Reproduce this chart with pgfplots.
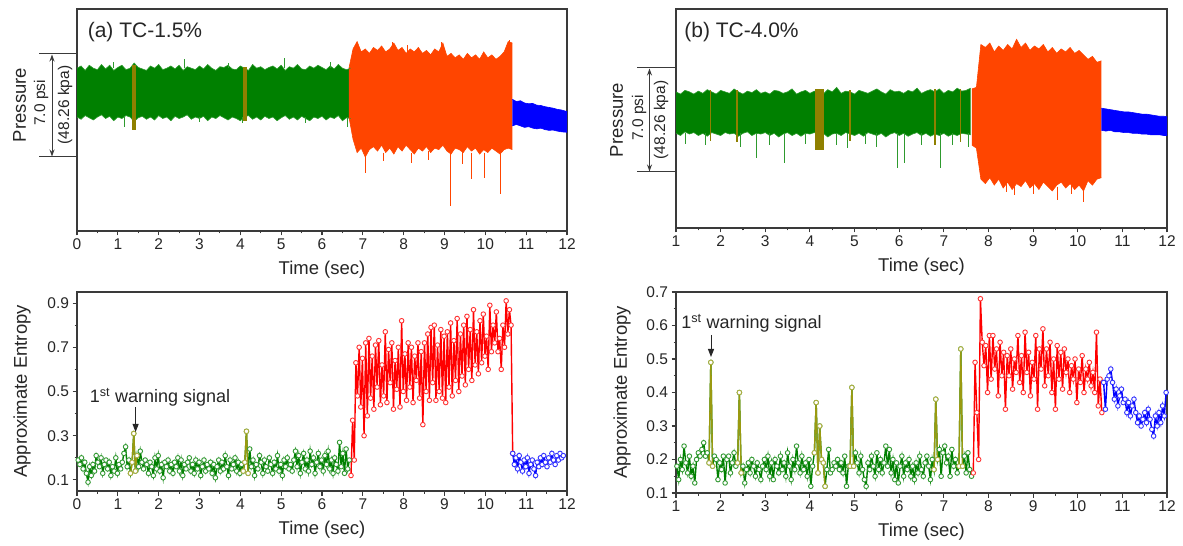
\documentclass[border=0pt]{standalone}
\usepackage{fontspec}
\setmainfont{Liberation Sans}
\usepackage{pgfplots}
\pgfplotsset{compat=1.18}
\usepgfplotslibrary{fillbetween}
\usetikzlibrary{arrows.meta}
\definecolor{gr}{HTML}{008000}
\definecolor{grl}{HTML}{2E9A2E}
\definecolor{brn}{HTML}{8F8000}
\definecolor{olv}{HTML}{9A9A10}
\definecolor{orr}{HTML}{FF4500}
\definecolor{blu}{HTML}{0000FF}
\definecolor{rd}{HTML}{FF0000}
\definecolor{axg}{HTML}{3A3A3A}
\definecolor{ink}{HTML}{262626}
\newcommand\fs[1]{\fontsize{#1bp}{#1bp}\selectfont}
\pgfplotsset{
  panel/.style={scale only axis, anchor=south west,
    axis line style={axg, line width=1.2bp},
    tick style={axg, line width=1.1bp},
    major tick length=4.5bp, minor tick length=2.5bp,
    tick align=outside, xtick pos=bottom, ytick pos=left,
    xtick distance=1, minor x tick num=1,
    tick label style={font=\fs{15.5}, text=ink},
    label style={font=\fs{18.5}, text=ink},
    /pgf/number format/assume math mode=true,
    xlabel={Time (sec)},
    xlabel style={at={(axis description cs:0.5,0)}, anchor=center, yshift=-39bp},
  },
  press/.style={panel, ytick=\empty, ymin=0},
  ent/.style={panel, ylabel={Approximate Entropy},
    yticklabel style={/pgf/number format/fixed, /pgf/number format/precision=1},
    minor y tick num=1},
  sig/.style={color=#1, line width=1.4bp, mark=*, mark size=2.3bp,
    mark options={draw=#1!80!white, fill=white, line width=0.9bp}},
}
\begin{document}
\begin{tikzpicture}
\path (0,0) rectangle (1183bp,546bp);

% ---------- (a) pressure ----------
\begin{axis}[press, at={(77bp,315bp)}, width=490bp, height=222bp, xmin=0, xmax=12, ymax=15]
  \addplot[name path=gau, grl, line width=0.6bp] table[row sep=\\, y index=0, x expr=0.1*\coordindex] {
11.0\\11.15\\10.85\\11.2\\11.0\\10.9\\11.25\\10.95\\11.2\\10.85\\
11.05\\11.2\\10.9\\11.0\\11.35\\11.05\\10.95\\10.85\\11.15\\11.0\\
11.25\\10.9\\11.0\\11.15\\10.95\\11.2\\10.85\\11.1\\11.0\\10.9\\
11.15\\10.95\\11.25\\11.0\\10.85\\11.1\\11.05\\11.2\\10.95\\10.9\\
11.15\\11.0\\10.85\\11.25\\11.0\\11.1\\10.9\\11.05\\11.15\\10.95\\
11.2\\10.85\\11.1\\11.0\\11.25\\10.95\\10.9\\11.15\\11.0\\11.2\\
11.05\\10.9\\11.15\\10.95\\11.25\\11.0\\10.9\\11.0\\};
  \addplot[name path=gal, grl, line width=0.6bp] table[row sep=\\, y index=0, x expr=0.1*\coordindex] {
7.7\\7.55\\7.8\\7.65\\7.5\\7.7\\7.85\\7.6\\7.75\\7.45\\
7.7\\7.6\\7.8\\7.7\\7.4\\7.65\\7.75\\7.55\\7.7\\7.5\\
7.8\\7.6\\7.7\\7.45\\7.75\\7.6\\7.7\\7.85\\7.55\\7.7\\
7.6\\7.75\\7.45\\7.7\\7.6\\7.8\\7.65\\7.5\\7.7\\7.6\\
7.45\\7.7\\7.8\\7.55\\7.7\\7.5\\7.75\\7.6\\7.7\\7.45\\
7.65\\7.8\\7.55\\7.7\\7.5\\7.75\\7.6\\7.45\\7.7\\7.6\\
7.75\\7.5\\7.7\\7.6\\7.8\\7.45\\7.65\\7.6\\};
  \addplot[gr] fill between[of=gau and gal];
  \addplot[grl, line width=0.8bp, unbounded coords=jump] coordinates {
    (1.15,7.7) (1.15,7.0) (1.15,nan) (2.64,11.0) (2.64,11.6) (2.64,nan)
    (5.08,11.0) (5.08,11.7) (5.08,nan) (4.05,7.7) (4.05,7.3) (4.05,nan)
    (6.63,7.7) (6.63,7.0) (6.63,nan) (3.0,7.7) (3.0,7.35) (3.0,nan)
    (5.6,7.7) (5.6,7.3) (5.6,nan) (0.9,11) (0.9,11.4) (0.9,nan)
    (3.7,11) (3.7,11.35) (3.7,nan) (6.2,11) (6.2,11.4)};
  \addplot[fill=brn, draw=none] coordinates {(1.34,6.8) (1.44,6.8) (1.44,11.2) (1.34,11.2)} -- cycle;
  \addplot[fill=brn, draw=none] coordinates {(4.06,7.4) (4.17,7.4) (4.17,11.1) (4.06,11.1)} -- cycle;
  \addplot[name path=rau, orr, line width=0.6bp] table[row sep=\\, y index=0, x expr=6.66+0.1*\coordindex] {
11.0\\12.3\\12.8\\12.1\\12.3\\12.0\\12.4\\12.2\\12.5\\12.1\\
12.3\\12.7\\12.2\\12.4\\12.0\\12.3\\12.1\\12.4\\12.0\\12.2\\
11.9\\12.3\\12.1\\12.7\\11.8\\12.0\\11.7\\11.9\\11.6\\12.0\\
11.7\\11.9\\11.6\\12.1\\11.7\\11.9\\11.6\\11.8\\12.1\\12.8\\12.7\\};
  \addplot[name path=ral, orr, line width=0.6bp] table[row sep=\\, y index=0, x expr=6.66+0.1*\coordindex] {
7.7\\6.2\\5.3\\5.6\\5.0\\5.5\\5.7\\5.4\\5.8\\5.3\\
5.6\\5.2\\5.7\\5.4\\5.8\\5.5\\5.2\\5.6\\5.4\\5.7\\
5.3\\5.6\\5.5\\5.8\\5.4\\5.2\\5.6\\5.5\\5.3\\5.7\\
5.4\\5.6\\5.2\\5.5\\5.3\\5.6\\5.4\\5.2\\5.5\\5.6\\5.5\\};
  \addplot[orr] fill between[of=rau and ral];
  \addplot[orr, line width=0.8bp, unbounded coords=jump] coordinates {
    (7.06,5.0) (7.06,3.9) (7.06,nan) (7.5,5.3) (7.5,4.7) (7.5,nan)
    (8.2,5.3) (8.2,4.6) (8.2,nan) (9.15,5.3) (9.15,1.7) (9.15,nan)
    (9.65,5.3) (9.65,3.5) (9.65,nan) (9.98,5.3) (9.98,3.6) (9.98,nan)
    (10.38,5.3) (10.38,2.5) (10.38,nan) (8.6,5.4) (8.6,4.8) (8.6,nan)
    (9.45,5.4) (9.45,4.5) (9.45,nan) (7.73,12.2) (7.73,12.75) (7.73,nan)
    (8.1,12.1) (8.1,12.6) (8.1,nan) (8.92,12.2) (8.92,12.8) (8.92,nan)
    (10.6,12.2) (10.6,12.9)};
  \addplot[name path=bau, blu, line width=0.6bp] table[row sep=\\, y index=0, x expr=10.66+0.1*\coordindex] {
8.9\\8.75\\8.8\\8.65\\8.6\\8.62\\8.5\\8.48\\8.4\\8.35\\8.3\\8.22\\8.18\\8.1\\8.08\\};
  \addplot[name path=bal, blu, line width=0.6bp] table[row sep=\\, y index=0, x expr=10.66+0.1*\coordindex] {
7.1\\7.2\\7.1\\7.0\\7.05\\6.95\\6.9\\6.95\\6.85\\6.8\\6.82\\6.75\\6.7\\6.68\\6.65\\};
  \addplot[blu] fill between[of=bau and bal];
\end{axis}

% ---------- (b) pressure ----------
\begin{axis}[press, at={(676bp,318bp)}, width=491bp, height=219bp, xmin=1, xmax=12, ymax=14.8]
  \addplot[name path=gbu, grl, line width=0.6bp] table[row sep=\\, y index=0, x expr=1+0.1*\coordindex] {
9.2\\9.05\\9.3\\9.2\\9.05\\9.25\\9.1\\9.35\\9.2\\9.05\\
9.3\\9.2\\9.1\\9.4\\9.2\\9.05\\9.25\\9.15\\9.35\\9.1\\
9.2\\9.05\\9.3\\9.25\\9.1\\9.2\\9.4\\9.05\\9.2\\9.3\\
9.1\\9.25\\9.2\\9.05\\9.35\\9.2\\9.5\\9.1\\9.25\\9.2\\
9.05\\9.3\\9.2\\9.1\\9.25\\9.4\\9.2\\9.05\\9.35\\9.2\\
9.25\\9.1\\9.3\\9.2\\9.45\\9.1\\9.25\\9.35\\9.2\\9.4\\
9.1\\9.3\\9.2\\9.45\\9.25\\9.3\\9.45\\};
  \addplot[name path=gbl, grl, line width=0.6bp] table[row sep=\\, y index=0, x expr=1+0.1*\coordindex] {
6.4\\6.25\\6.5\\6.35\\6.45\\6.25\\6.4\\6.2\\6.45\\6.35\\
6.25\\6.45\\6.35\\6.4\\6.2\\6.4\\6.5\\6.25\\6.4\\6.35\\
6.45\\6.25\\6.4\\6.15\\6.35\\6.45\\6.25\\6.4\\6.2\\6.4\\
6.35\\6.45\\6.25\\6.4\\6.15\\6.35\\6.4\\6.25\\6.45\\6.35\\
6.25\\6.4\\6.2\\6.45\\6.35\\6.25\\6.4\\6.15\\6.35\\6.45\\
6.25\\6.4\\6.2\\6.35\\6.45\\6.25\\6.4\\6.2\\6.35\\6.25\\
6.4\\6.2\\6.35\\6.25\\6.4\\6.35\\6.3\\};
  \addplot[gr] fill between[of=gbu and gbl];
  \addplot[grl, line width=0.8bp, unbounded coords=jump] coordinates {
    (2.79,6.4) (2.79,4.7) (2.79,nan) (3.42,6.4) (3.42,4.4) (3.42,nan)
    (5.95,6.4) (5.95,4.05) (5.95,nan) (6.12,6.4) (6.12,4.4) (6.12,nan)
    (6.92,6.4) (6.92,4.05) (6.92,nan) (1.2,6.4) (1.2,5.7) (1.2,nan)
    (1.65,6.4) (1.65,5.6) (1.65,nan) (2.45,6.4) (2.45,5.5) (2.45,nan)
    (3.1,6.4) (3.1,5.6) (3.1,nan) (3.9,6.4) (3.9,5.7) (3.9,nan)
    (4.28,6.4) (4.28,5.3) (4.28,nan) (4.6,6.4) (4.6,5.6) (4.6,nan)
    (4.85,6.4) (4.85,5.4) (4.85,nan) (5.25,6.4) (5.25,5.7) (5.25,nan)
    (5.5,6.4) (5.5,5.5) (5.5,nan) (6.5,6.4) (6.5,5.6) (6.5,nan)
    (7.2,6.4) (7.2,5.6) (7.2,nan) (7.55,6.4) (7.55,5.5)};
  \addplot[fill=brn, draw=none] coordinates {(1.765,5.9) (1.795,5.9) (1.795,9.3) (1.765,9.3)} -- cycle;
  \addplot[fill=brn, draw=none] coordinates {(2.355,5.8) (2.385,5.8) (2.385,9.3) (2.355,9.3)} -- cycle;
  \addplot[fill=brn, draw=none] coordinates {(4.12,5.3) (4.31,5.3) (4.31,9.4) (4.12,9.4)} -- cycle;
  \addplot[fill=brn, draw=none] coordinates {(4.88,5.9) (4.92,5.9) (4.92,9.3) (4.88,9.3)} -- cycle;
  \addplot[fill=brn, draw=none] coordinates {(6.785,5.6) (6.815,5.6) (6.815,9.4) (6.785,9.4)} -- cycle;
  \addplot[fill=brn, draw=none] coordinates {(7.355,5.8) (7.385,5.8) (7.385,9.4) (7.355,9.4)} -- cycle;
  \addplot[name path=rbu, orr, line width=0.6bp] table[row sep=\\, y index=0, x expr=7.63+0.1*\coordindex] {
9.4\\9.5\\12.4\\12.2\\12.5\\11.9\\12.3\\12.0\\12.4\\12.1\\
12.75\\12.2\\12.5\\12.0\\12.3\\12.1\\12.4\\11.9\\12.2\\11.8\\
12.1\\11.9\\12.2\\11.8\\12.0\\11.7\\11.4\\11.6\\11.2\\11.3\\};
  \addplot[name path=rbl, orr, line width=0.6bp] table[row sep=\\, y index=0, x expr=7.63+0.1*\coordindex] {
5.6\\5.4\\3.3\\3.0\\3.4\\2.9\\3.3\\2.7\\3.1\\2.6\\
3.0\\2.8\\3.2\\2.7\\3.0\\2.6\\3.1\\2.8\\2.5\\2.9\\
3.1\\2.7\\3.0\\2.6\\2.9\\2.5\\3.2\\2.9\\3.3\\3.4\\};
  \addplot[orr] fill between[of=rbu and rbl];
  \addplot[orr, line width=0.8bp, unbounded coords=jump] coordinates {
    (8.57,2.8) (8.57,2.2) (8.57,nan) (9.54,2.8) (9.54,1.9) (9.54,nan)
    (10.13,2.6) (10.13,1.75) (10.13,nan) (8.4,3) (8.4,2.4) (8.4,nan)
    (9.0,3.0) (9.0,2.3) (9.0,nan) (9.85,3.0) (9.85,2.3)};
  \addplot[name path=bbu, blu, line width=0.6bp] table[row sep=\\, y index=0, x expr=10.53+0.1*\coordindex] {
8.1\\8.05\\8.0\\7.95\\7.9\\7.85\\7.85\\7.8\\7.75\\7.7\\7.7\\7.65\\7.6\\7.55\\7.55\\7.5\\};
  \addplot[name path=bbl, blu, line width=0.6bp] table[row sep=\\, y index=0, x expr=10.53+0.1*\coordindex] {
6.6\\6.55\\6.6\\6.5\\6.5\\6.45\\6.45\\6.4\\6.4\\6.35\\6.35\\6.3\\6.3\\6.3\\6.25\\6.25\\};
  \addplot[blu] fill between[of=bbu and bbl];
\end{axis}

% ---------- (a) entropy ----------
\begin{axis}[ent, at={(77bp,55bp)}, width=490bp, height=199bp, xmin=0, xmax=12, ymin=0.05, ymax=0.95,
    ytick={0.1,0.3,0.5,0.7,0.9},
    ylabel style={at={(axis description cs:-0.112,0.5)}, anchor=center}]
  \addplot[sig=gr] table[row sep=\\, y index=0, x expr=0.03+0.04*\coordindex] {
0.19\\0.17\\0.20\\0.15\\0.18\\0.13\\0.09\\0.16\\0.12\\0.17\\
0.14\\0.21\\0.18\\0.16\\0.20\\0.13\\0.17\\0.19\\0.15\\0.18\\
0.12\\0.16\\0.14\\0.20\\0.13\\0.17\\0.15\\0.18\\0.22\\0.25\\
0.16\\0.19\\0.13\\0.18\\0.31\\0.14\\0.21\\0.16\\0.23\\0.18\\
0.15\\0.19\\0.17\\0.13\\0.18\\0.16\\0.12\\0.20\\0.15\\0.21\\
0.14\\0.17\\0.11\\0.18\\0.16\\0.19\\0.14\\0.17\\0.13\\0.18\\
0.16\\0.20\\0.14\\0.19\\0.12\\0.17\\0.15\\0.18\\0.20\\0.14\\
0.17\\0.13\\0.19\\0.15\\0.18\\0.12\\0.16\\0.19\\0.14\\0.17\\
0.15\\0.18\\0.13\\0.17\\0.11\\0.16\\0.19\\0.14\\0.18\\0.15\\
0.21\\0.16\\0.12\\0.19\\0.15\\0.17\\0.20\\0.14\\0.18\\0.13\\
0.17\\0.14\\0.18\\0.32\\0.13\\0.24\\0.16\\0.19\\0.12\\0.17\\
0.15\\0.21\\0.18\\0.13\\0.19\\0.16\\0.14\\0.20\\0.17\\0.13\\
0.18\\0.15\\0.21\\0.14\\0.17\\0.12\\0.19\\0.16\\0.20\\0.15\\
0.17\\0.14\\0.19\\0.23\\0.16\\0.21\\0.13\\0.18\\0.22\\0.15\\
0.19\\0.14\\0.23\\0.17\\0.20\\0.13\\0.18\\0.22\\0.16\\0.19\\
0.14\\0.21\\0.17\\0.23\\0.15\\0.19\\0.13\\0.20\\0.17\\0.14\\
0.27\\0.16\\0.22\\0.13\\0.24\\0.15\\0.19\\};
  \addplot[sig=olv] coordinates {(1.31,0.13) (1.35,0.18) (1.39,0.31) (1.43,0.14) (1.47,0.21)};
  \addplot[sig=olv] coordinates {(4.07,0.14) (4.11,0.18) (4.15,0.32) (4.19,0.13)};
  \addplot[sig=rd] table[row sep=\\, y index=0, x expr=6.71+0.04*\coordindex] {
0.12\\0.37\\0.19\\0.63\\0.48\\0.70\\0.43\\0.65\\0.30\\0.72\\
0.39\\0.74\\0.47\\0.66\\0.42\\0.71\\0.52\\0.73\\0.44\\0.62\\
0.48\\0.77\\0.45\\0.69\\0.54\\0.72\\0.42\\0.64\\0.51\\0.70\\
0.43\\0.82\\0.50\\0.67\\0.46\\0.72\\0.52\\0.70\\0.45\\0.66\\
0.55\\0.72\\0.47\\0.68\\0.35\\0.72\\0.50\\0.76\\0.46\\0.79\\
0.54\\0.80\\0.46\\0.71\\0.50\\0.78\\0.47\\0.75\\0.45\\0.77\\
0.52\\0.81\\0.48\\0.73\\0.55\\0.83\\0.50\\0.76\\0.57\\0.80\\
0.53\\0.84\\0.60\\0.78\\0.55\\0.87\\0.62\\0.77\\0.58\\0.82\\
0.63\\0.85\\0.66\\0.75\\0.60\\0.89\\0.68\\0.80\\0.72\\0.86\\
0.68\\0.74\\0.60\\0.80\\0.70\\0.91\\0.76\\0.87\\0.80\\0.22\\};
  \addplot[sig=blu] table[row sep=\\, y index=0, x expr=10.67+0.04*\coordindex] {
0.22\\0.17\\0.20\\0.15\\0.21\\0.18\\0.14\\0.19\\0.16\\0.20\\
0.13\\0.17\\0.19\\0.15\\0.12\\0.18\\0.16\\0.20\\0.17\\0.21\\
0.18\\0.16\\0.20\\0.18\\0.22\\0.19\\0.17\\0.21\\0.19\\0.22\\
0.20\\0.21\\};
\end{axis}

% ---------- (b) entropy ----------
\begin{axis}[ent, at={(676bp,53bp)}, width=491bp, height=201bp, xmin=1, xmax=12, ymin=0.1, ymax=0.7,
    ytick={0.1,0.2,0.3,0.4,0.5,0.6,0.7},
    ylabel style={at={(axis description cs:-0.11,0.5)}, anchor=center}]
  \addplot[sig=gr] table[row sep=\\, y index=0, x expr=1.02+0.04*\coordindex] {
0.18\\0.14\\0.20\\0.17\\0.24\\0.19\\0.16\\0.21\\0.15\\0.18\\
0.13\\0.20\\0.22\\0.21\\0.23\\0.25\\0.21\\0.22\\0.19\\0.49\\
0.18\\0.21\\0.20\\0.14\\0.19\\0.17\\0.21\\0.13\\0.20\\0.21\\
0.16\\0.19\\0.22\\0.18\\0.19\\0.40\\0.16\\0.18\\0.13\\0.17\\
0.19\\0.16\\0.20\\0.18\\0.15\\0.19\\0.17\\0.14\\0.18\\0.20\\
0.17\\0.21\\0.15\\0.19\\0.14\\0.20\\0.18\\0.16\\0.21\\0.17\\
0.19\\0.15\\0.22\\0.18\\0.14\\0.20\\0.17\\0.24\\0.19\\0.16\\
0.21\\0.17\\0.19\\0.15\\0.20\\0.12\\0.18\\0.22\\0.37\\0.16\\
0.30\\0.20\\0.19\\0.12\\0.17\\0.23\\0.16\\0.17\\0.19\\0.18\\
0.20\\0.17\\0.19\\0.16\\0.21\\0.12\\0.18\\0.18\\0.415\\0.18\\
0.22\\0.19\\0.16\\0.21\\0.17\\0.14\\0.12\\0.19\\0.17\\0.21\\
0.18\\0.15\\0.22\\0.17\\0.20\\0.16\\0.19\\0.24\\0.18\\0.23\\
0.16\\0.20\\0.14\\0.19\\0.13\\0.18\\0.21\\0.15\\0.19\\0.17\\
0.20\\0.15\\0.18\\0.14\\0.19\\0.16\\0.21\\0.17\\0.15\\0.19\\
0.21\\0.18\\0.14\\0.20\\0.17\\0.38\\0.20\\0.23\\0.15\\0.22\\
0.24\\0.19\\0.21\\0.15\\0.23\\0.18\\0.20\\0.16\\0.18\\0.53\\
0.18\\0.21\\0.16\\0.22\\0.17\\0.15\\};
  \addplot[sig=olv] coordinates {(1.74,0.19) (1.78,0.49) (1.82,0.18)};
  \addplot[sig=olv] coordinates {(2.38,0.19) (2.42,0.40) (2.46,0.16)};
  \addplot[sig=olv] coordinates {(4.10,0.22) (4.14,0.37) (4.18,0.16) (4.22,0.30) (4.26,0.20) (4.30,0.19) (4.34,0.12)};
  \addplot[sig=olv] coordinates {(4.90,0.18) (4.94,0.415) (4.98,0.18)};
  \addplot[sig=olv] coordinates {(6.78,0.17) (6.82,0.38) (6.86,0.20)};
  \addplot[sig=olv] coordinates {(7.34,0.18) (7.38,0.53) (7.42,0.18)};
  \addplot[sig=rd] table[row sep=\\, y index=0, x expr=7.66+0.04*\coordindex] {
0.16\\0.49\\0.34\\0.20\\0.68\\0.55\\0.48\\0.54\\0.40\\0.57\\
0.44\\0.57\\0.47\\0.53\\0.39\\0.55\\0.45\\0.52\\0.35\\0.51\\
0.45\\0.53\\0.41\\0.50\\0.46\\0.57\\0.43\\0.51\\0.40\\0.58\\
0.46\\0.52\\0.39\\0.49\\0.44\\0.57\\0.35\\0.53\\0.47\\0.59\\
0.42\\0.53\\0.45\\0.55\\0.40\\0.50\\0.35\\0.54\\0.44\\0.52\\
0.41\\0.53\\0.46\\0.50\\0.40\\0.48\\0.44\\0.50\\0.37\\0.47\\
0.43\\0.51\\0.40\\0.47\\0.44\\0.49\\0.42\\0.46\\0.40\\0.58\\
0.36\\0.44\\0.34\\};
  \addplot[sig=blu] table[row sep=\\, y index=0, x expr=10.58+0.04*\coordindex] {
0.43\\0.35\\0.44\\0.45\\0.47\\0.43\\0.38\\0.41\\0.36\\0.39\\
0.41\\0.37\\0.38\\0.34\\0.37\\0.33\\0.36\\0.38\\0.34\\0.31\\
0.33\\0.30\\0.32\\0.34\\0.31\\0.35\\0.32\\0.29\\0.27\\0.33\\
0.30\\0.34\\0.31\\0.36\\0.33\\0.40\\};
\end{axis}

% ---------- annotations ----------
\node[font=\fs{21}, text=ink] at (145bp,514bp) {(a) TC-1.5\%};
\node[font=\fs{21}, text=ink] at (741.5bp,514bp) {(b) TC-4.0\%};

\draw[axg, line width=1bp] (39bp,492bp) -- (77bp,492bp) (39bp,389bp) -- (77bp,389bp);
\draw[axg, line width=1bp, {Stealth[length=7bp,width=5bp]}-{Stealth[length=7bp,width=5bp]}] (52bp,491.5bp) -- (52bp,389.5bp);
\node[rotate=90, font=\fs{18.5}, text=ink] at (19.5bp,441bp) {Pressure};
\node[rotate=90, font=\fs{15.5}, text=ink] at (41bp,443bp) {7.0 psi};
\node[rotate=90, font=\fs{15.5}, text=ink] at (65bp,441bp) {(48.26 kpa)};

\draw[axg, line width=1bp] (637bp,478bp) -- (676bp,478bp) (637bp,374bp) -- (676bp,374bp);
\draw[axg, line width=1bp, {Stealth[length=7bp,width=5bp]}-{Stealth[length=7bp,width=5bp]}] (649.5bp,477.5bp) -- (649.5bp,374.5bp);
\node[rotate=90, font=\fs{18.5}, text=ink] at (616.5bp,426bp) {Pressure};
\node[rotate=90, font=\fs{15.5}, text=ink] at (639bp,428bp) {7.0 psi};
\node[rotate=90, font=\fs{15.5}, text=ink] at (661bp,426bp) {(48.26 kpa)};

\node[font=\fs{18}, text=ink] at (160bp,149bp) {1\textsuperscript{st} warning signal};
\draw[ink, line width=1bp, -{Triangle[length=8bp,width=6bp]}] (135.6bp,139bp) -- (135.6bp,114bp);
\node[font=\fs{18}, text=ink] at (751.5bp,223bp) {1\textsuperscript{st} warning signal};
\draw[ink, line width=1bp, -{Triangle[length=8bp,width=6bp]}] (711bp,211bp) -- (711bp,189bp);
\end{tikzpicture}
\end{document}
